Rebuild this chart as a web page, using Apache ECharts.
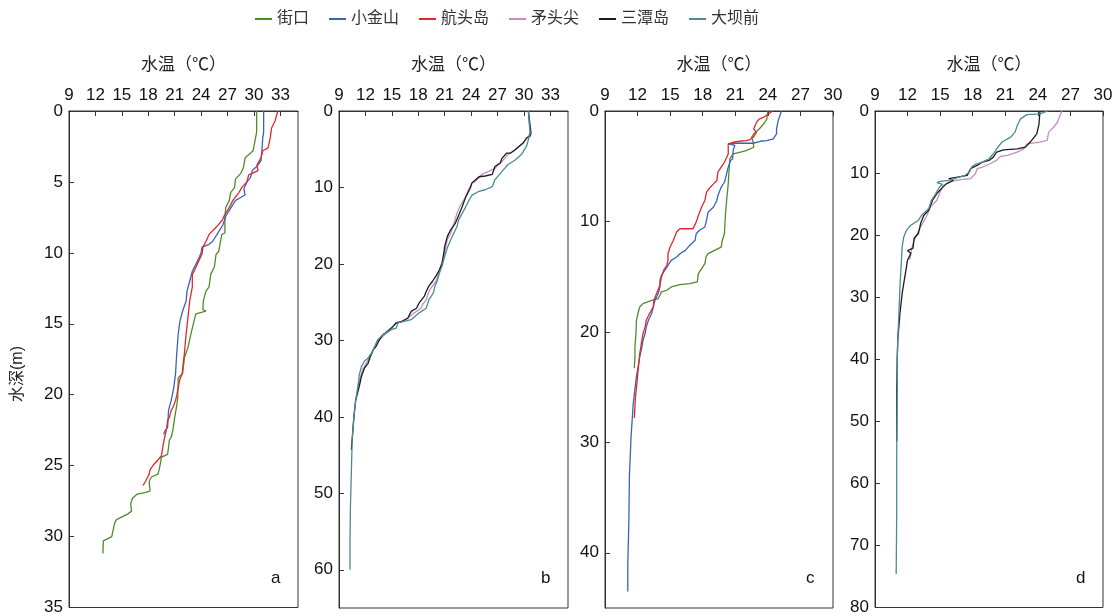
<!DOCTYPE html>
<html>
<head>
<meta charset="utf-8">
<script src="https://cdn.jsdelivr.net/npm/echarts@6/dist/echarts.min.js"></script>
<style>
  html, body { margin: 0; padding: 0; background: #fff; }
  #main { width: 1119px; height: 616px; }
</style>
</head>
<body>
<div id="main"></div>
<script>
var stations = ['街口', '小金山', '航头岛', '矛头尖', '三潭岛', '大坝前'];
var stationColors = ['#4f8b2c', '#3b62b6', '#e3262c', '#c88bc5', '#1c1c1c', '#4a8b95'];
var panelLetters = ['a', 'b', 'c', 'd'];
var tempMin = 9, tempStep = 3;
var tempMax = [35, 35, 30, 30];
var depthMax = [35, 65, 45, 80];
var depthStep = [5, 10, 10, 10];

// [水温, 水深]
var a_jiekou = [[30.3,0],[30.3,1.5],[29.9,2.8],[29.0,3.3],[28.8,4.0],[28.5,4.4],[27.9,4.8],[27.8,5.4],[27.35,5.75],[27.2,6.3],[26.8,6.8],[26.7,7.4],[26.7,8.6],[26.35,8.7],[26.0,9.9],[25.7,10.1],[25.5,11.0],[25.1,11.5],[24.9,12.4],[24.55,12.7],[24.25,13.4],[24.2,14.0],[24.55,14.1],[23.4,14.3],[23.2,14.8],[22.85,15.7],[22.5,16.7],[22.1,17.4],[21.9,18.5],[21.4,18.8],[21.35,20.2],[21.2,20.9],[21.0,21.6],[20.8,22.5],[20.6,23.0],[20.4,23.2],[20.2,24.2],[19.5,24.4],[19.3,25.1],[19.1,25.6],[18.35,25.8],[18.1,26.1],[18.2,26.8],[17.6,26.9],[16.75,27.0],[16.2,27.3],[16.0,27.7],[16.1,28.2],[15.7,28.4],[14.4,28.8],[14.2,29.0],[13.85,30.0],[12.9,30.3],[12.85,31.2]];
var a_xiaojinshan = [[31.1,0],[31.1,1.5],[31.0,1.9],[30.9,2.8],[30.7,2.9],[30.8,3.5],[30.35,3.9],[29.8,4.2],[29.6,4.7],[29.2,5.0],[28.85,5.5],[29.0,5.9],[28.5,6.1],[27.9,6.3],[27.2,7.0],[26.8,7.4],[26.5,8.0],[26.0,8.5],[25.3,9.2],[24.9,9.4],[24.1,9.6],[24.0,10.0],[23.8,10.3],[23.4,10.8],[23.0,11.3],[22.7,12.0],[22.4,12.7],[22.3,13.4],[21.9,14.1],[21.6,14.8],[21.4,15.7],[21.2,17.4],[21.1,18.5],[20.9,19.5],[20.6,20.4],[20.3,21.1],[20.2,22.3],[19.85,22.6],[19.75,22.8]];
var a_hangtoudao = [[32.7,0],[32.4,0.7],[32.0,1.2],[31.85,1.9],[31.6,2.6],[31.0,2.8],[30.8,3.3],[30.35,3.8],[30.45,4.2],[29.8,4.4],[29.4,4.5],[29.2,5.0],[28.6,5.4],[28.3,5.75],[27.6,6.3],[27.2,6.8],[26.6,7.4],[26.4,7.7],[25.7,8.2],[24.9,8.7],[24.55,9.2],[24.2,9.6],[24.1,10.1],[23.7,10.6],[23.2,11.3],[23.0,11.5],[23.0,12.4],[22.7,13.4],[22.5,14.6],[22.3,15.7],[22.1,17.1],[21.85,18.5],[21.55,19.0],[21.25,20.0],[21.1,20.4],[20.8,20.9],[20.6,21.1],[20.4,21.6],[20.2,21.8],[20.1,22.3],[19.95,22.8],[19.85,23.0],[19.65,23.7],[19.5,24.3],[19.1,24.6],[18.65,24.9],[18.2,25.3],[18.1,25.6],[17.7,26.1],[17.4,26.4]];

var b_maotoujian = [[30.5,0],[30.7,2.9],[30.4,3.5],[29.9,4.2],[29.0,5.07],[28.2,5.7],[27.5,6.6],[26.7,7.5],[26.0,7.9],[25.2,8.3],[24.5,9.2],[24.1,9.4],[23.7,10.3],[23.4,11.2],[22.8,12.3],[22.4,13.35],[22.05,14.7],[21.7,15.96],[21.3,16.8],[21.1,17.9],[20.9,19.0],[20.7,19.9],[20.4,20.8],[20.2,21.6],[20.0,22.3],[19.6,22.9],[19.2,23.6],[18.9,24.7],[18.5,25.3],[18.3,25.8],[17.55,26.4],[16.8,27.1],[16.05,27.5],[15.5,27.7],[14.9,28.6],[14.2,29.25],[13.6,29.9],[13.2,30.6],[12.9,31.2],[12.5,32.1],[12.1,33.0],[11.7,33.8],[11.4,34.9],[11.1,36.4]];
var b_santandao = [[30.5,0],[30.8,2.9],[30.7,3.3],[30.3,3.5],[29.9,4.2],[29.0,5.07],[28.5,5.5],[28.05,5.5],[27.5,6.2],[27.3,6.8],[26.7,7.25],[26.4,8.3],[25.6,8.5],[24.9,8.6],[24.5,9.0],[24.1,9.4],[23.9,10.1],[23.4,11.2],[23.0,12.5],[22.6,13.6],[22.2,14.7],[21.7,15.5],[21.3,16.4],[21.0,17.7],[20.9,18.6],[20.7,19.9],[20.4,20.8],[20.0,21.6],[19.6,22.3],[19.2,22.9],[18.9,23.6],[18.7,24.2],[18.1,25.1],[17.8,25.8],[17.2,26.2],[16.8,27.1],[16.2,27.5],[15.5,27.7],[15.1,28.2],[14.7,28.6],[14.0,29.25],[13.6,29.9],[13.2,30.8],[12.9,31.2],[12.5,32.3],[12.3,33.0],[11.9,33.6],[11.55,34.7],[11.3,36.0],[10.9,37.8],[10.7,39.9],[10.4,44.3]];
var b_dabaqian = [[30.5,0],[30.7,2.9],[30.3,4.6],[29.7,5.7],[29.0,6.4],[28.2,7.0],[27.5,7.9],[26.7,9.0],[26.4,9.9],[25.6,10.3],[24.9,10.5],[24.1,11.0],[23.7,11.8],[23.4,12.5],[23.0,13.35],[22.6,14.2],[22.4,15.1],[22.05,15.96],[21.7,16.8],[21.3,17.9],[21.1,18.6],[20.9,19.4],[20.7,20.3],[20.4,21.2],[20.2,22.06],[19.9,22.9],[19.7,23.8],[19.2,24.7],[18.9,25.8],[18.1,26.4],[17.2,27.3],[15.7,27.7],[15.5,28.4],[14.9,28.6],[14.0,29.25],[13.4,29.9],[13.05,30.8],[12.7,31.65],[12.3,32.3],[11.9,32.7],[11.55,33.4],[11.3,34.5],[11.2,35.6],[10.9,37.8],[10.7,39.9],[10.5,43.0],[10.4,47.3],[10.3,51.7],[10.25,56.0],[10.25,60.0]];

var c_jiekou = [[24.0,0],[23.9,0.73],[23.6,1.18],[23.2,1.63],[22.7,2.08],[22.5,2.38],[22.65,2.83],[22.7,3.28],[22.0,3.59],[21.4,3.74],[20.8,3.89],[20.65,4.04],[20.5,4.34],[20.44,5.09],[20.35,6.6],[20.2,8.1],[20.1,9.31],[20.0,11.11],[19.8,11.7],[19.7,12.32],[19.1,12.62],[18.5,12.92],[18.3,13.22],[18.2,13.82],[17.9,14.27],[17.6,14.73],[17.5,15.48],[16.8,15.63],[15.9,15.72],[15.1,15.93],[14.7,16.23],[14.2,16.38],[14.06,16.68],[13.9,16.98],[13.6,17.07],[13.3,17.14],[12.5,17.44],[12.2,17.74],[12.07,18.2],[11.9,18.94],[11.85,20.15],[11.76,21.35],[11.76,22.26],[11.7,23.3]];
var c_xiaojinshan = [[25.25,0],[24.95,0.87],[24.8,1.63],[24.8,2.08],[24.5,2.53],[23.9,2.68],[23.3,2.74],[22.65,2.92],[21.7,2.92],[20.8,2.92],[20.35,2.98],[20.96,3.1],[20.8,3.59],[20.75,4.34],[20.56,4.49],[20.35,5.09],[20.2,5.69],[20.0,6.45],[19.7,6.9],[19.4,7.65],[19.3,8.1],[19.0,8.7],[18.5,9.16],[18.35,9.91],[18.2,10.5],[17.7,10.8],[17.4,11.11],[17.3,11.7],[16.8,12.17],[16.4,12.62],[15.9,12.92],[15.6,13.22],[15.1,13.52],[14.8,13.97],[14.5,14.43],[14.2,14.88],[14.06,15.33],[14.06,15.93],[13.9,16.53],[13.6,17.14],[13.45,17.74],[13.3,18.34],[13.0,18.94],[12.8,19.55],[12.7,20.15],[12.5,20.75],[12.4,21.35],[12.2,22.26],[11.9,24.0],[11.6,26.5],[11.4,29.5],[11.25,33.0],[11.2,37.0],[11.1,41.0],[11.1,43.5]];
var c_hangtoudao = [[24.4,0],[24.0,0.33],[23.6,0.57],[23.2,0.73],[22.95,1.03],[22.7,1.63],[22.95,1.93],[22.65,2.38],[22.3,2.62],[22.0,2.68],[21.4,2.74],[20.8,2.83],[20.35,2.98],[20.35,3.28],[20.5,3.4],[20.35,3.89],[20.0,4.64],[19.7,5.09],[19.4,5.54],[19.3,6.3],[19.0,6.6],[18.7,6.9],[18.35,7.35],[18.2,8.1],[17.9,8.7],[17.6,9.46],[17.4,10.06],[17.1,10.66],[16.7,10.66],[15.9,10.66],[15.6,10.96],[15.3,11.7],[15.0,12.32],[14.8,12.92],[14.8,13.52],[14.7,13.97],[14.4,14.43],[14.2,15.03],[14.06,15.78],[13.75,16.53],[13.5,17.14],[13.45,17.74],[13.1,18.34],[12.8,18.94],[12.7,19.55],[12.5,20.15],[12.4,20.75],[12.2,21.96],[12.0,24.0],[11.8,26.0],[11.7,27.8]];

var d_maotoujian = [[26.2,0],[25.8,1.81],[25.45,2.62],[25.0,3.41],[24.85,4.75],[24.2,5.0],[23.0,5.29],[22.7,6.09],[22.1,6.62],[21.2,7.16],[20.55,7.32],[20.2,7.96],[19.6,8.5],[18.9,9.03],[18.4,9.3],[18.25,10.1],[17.8,10.9],[16.9,11.07],[16.1,11.28],[15.3,11.97],[15.0,13.04],[14.7,14.38],[14.1,15.45],[13.8,16.79],[13.2,18.66],[12.9,19.73],[12.6,20.8],[12.4,22.1],[12.2,24.0]];
var d_santandao = [[24.2,0],[24.1,2.17],[23.9,3.68],[23.3,5.0],[22.85,5.82],[22.1,6.09],[20.85,6.25],[20.2,6.62],[19.9,7.43],[19.5,7.96],[18.9,8.23],[18.4,8.76],[17.8,9.3],[17.5,10.37],[16.6,10.64],[15.8,10.9],[16.2,11.2],[15.6,11.7],[15.2,12.35],[14.7,13.3],[14.3,14.38],[13.95,15.98],[13.5,16.79],[13.2,18.13],[13.0,19.73],[12.6,20.5],[12.5,22.1],[12.0,22.5],[12.3,22.94],[12.0,24.0],[11.8,26.15],[11.5,29.4],[11.3,32.6],[11.1,36.8],[11.05,39.8],[11.0,45.0],[11.0,53.2]];
var d_dabaqian = [[24.9,0],[24.2,0.47],[23.0,0.58],[22.4,1.27],[22.1,2.34],[21.9,3.41],[21.5,4.2],[20.7,5.0],[20.2,6.09],[19.9,6.89],[19.5,7.7],[18.9,8.23],[18.25,8.6],[17.9,9.03],[17.7,9.83],[17.3,10.37],[16.6,10.74],[15.8,11.17],[15.0,11.33],[14.7,11.55],[15.2,11.81],[14.9,12.35],[14.6,13.3],[14.2,14.38],[13.95,15.72],[13.3,16.79],[13.0,17.59],[12.3,18.4],[11.9,19.2],[11.65,20.3],[11.5,21.9],[11.4,25.1],[11.3,28.3],[11.2,32.6],[11.1,36.8],[11.05,39.8],[11.05,45.0],[11.0,55.0],[11.0,65.0],[10.95,74.6]];

var panels = [
    [['街口', a_jiekou], ['小金山', a_xiaojinshan], ['航头岛', a_hangtoudao]],
    [['矛头尖', b_maotoujian], ['三潭岛', b_santandao], ['大坝前', b_dabaqian]],
    [['街口', c_jiekou], ['小金山', c_xiaojinshan], ['航头岛', c_hangtoudao]],
    [['矛头尖', d_maotoujian], ['三潭岛', d_santandao], ['大坝前', d_dabaqian]]
];

var font = 'Arial, "Liberation Sans", "Noto Sans CJK SC", sans-serif';
var gridLefts = [69, 339, 605, 875];
var gridWidths = [229, 229, 228, 228];
var gridTop = 111, gridHeight = 497;

var grids = [], xAxes = [], yAxes = [], series = [], graphics = [];
for (var i = 0; i < 4; i++) {
    grids.push({
        left: gridLefts[i], top: gridTop, width: gridWidths[i], height: gridHeight,
        show: true, borderColor: '#333', borderWidth: 1, backgroundColor: 'transparent'
    });
    xAxes.push({
        gridIndex: i, type: 'value', position: 'top',
        min: tempMin, max: tempMax[i], interval: tempStep,
        name: '水温（℃）', nameLocation: 'middle', nameGap: 37,
        nameTextStyle: { fontSize: 17, color: '#222', fontFamily: font },
        axisLine: { show: true, lineStyle: { color: '#333', width: 1 } },
        axisTick: { show: true, inside: true, length: 5, lineStyle: { color: '#333' } },
        axisLabel: {
            fontSize: 17, color: '#111', margin: 7, fontFamily: font,
            showMaxLabel: (tempMax[i] - tempMin) % tempStep === 0
        },
        splitLine: { show: false }
    });
    yAxes.push({
        gridIndex: i, type: 'value', inverse: true,
        min: 0, max: depthMax[i], interval: depthStep[i],
        axisLine: { show: true, lineStyle: { color: '#333', width: 1 } },
        axisTick: { show: true, inside: true, length: 5, lineStyle: { color: '#333' } },
        axisLabel: {
            fontSize: 17, color: '#111', margin: 6, fontFamily: font,
            showMaxLabel: depthMax[i] % depthStep[i] === 0
        },
        splitLine: { show: false }
    });
    panels[i].forEach(function (p) {
        var c = stationColors[stations.indexOf(p[0])];
        series.push({
            name: p[0], type: 'line', xAxisIndex: i, yAxisIndex: i,
            data: p[1], showSymbol: false, symbol: 'none', smooth: false,
            color: c, lineStyle: { color: c, width: 1.3 },
            animation: false
        });
    });
    graphics.push({
        type: 'text', left: gridLefts[i] + gridWidths[i] - 27, top: 570,
        style: { text: panelLetters[i], fontSize: 17, fill: '#111', fontFamily: font }
    });
}
// 纵轴名称
graphics.push({
    type: 'text', x: 18, y: 374, rotation: Math.PI / 2,
    style: { text: '水深(m)', fontSize: 16, fill: '#222', fontFamily: font, align: 'center', verticalAlign: 'middle' }
});

var chart = echarts.init(document.getElementById('main'));
chart.setOption({
    backgroundColor: '#fff',
    animation: false,
    legend: {
        data: stations, left: 255, top: 11, padding: 0,
        icon: 'rect', itemWidth: 17, itemHeight: 2, itemGap: 20,
        textStyle: { fontSize: 16, color: '#333', fontFamily: font }
    },
    grid: grids,
    xAxis: xAxes,
    yAxis: yAxes,
    series: series,
    graphic: graphics
});
</script>
</body>
</html>
